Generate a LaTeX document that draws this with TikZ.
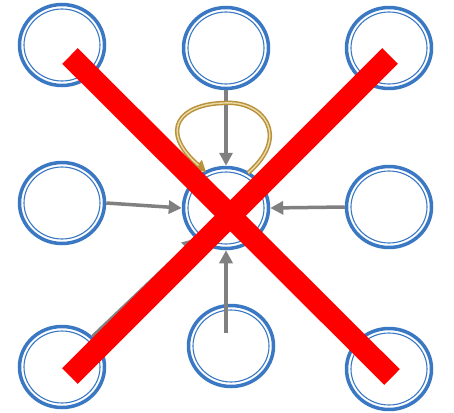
\documentclass[tikz,border=0pt]{standalone}
\usetikzlibrary{shapes.geometric,arrows.meta}
\definecolor{ringblue}{HTML}{3A78C3}
\definecolor{arrgray}{HTML}{808080}
\definecolor{loopgold}{HTML}{B8913A}
\definecolor{loopin}{HTML}{EADAA8}
\definecolor{xred}{HTML}{FF0000}
\tikzset{
  ring/.style={ellipse, draw=ringblue, line width=3.5pt, minimum width=85pt, minimum height=81pt, inner sep=0pt},
  innerring/.style={draw=ringblue, line width=1.1pt},
  garrow/.style={draw=arrgray, line width=3.5pt, -{Triangle[length=13pt,width=13pt]}},
  xbar/.style={draw=xred, line width=22pt, line cap=butt}
}
\begin{document}
\begin{tikzpicture}[x=1pt,y=-1pt]
\useasboundingbox (0,0) rectangle (454,412);
\node[ring] (n11) at (62,45) {};
\node[ring] (n12) at (226,48) {};
\node[ring] (n13) at (389,48) {};
\node[ring] (n21) at (62,203) {};
\node[ring] (n22) at (226,208) {};
\node[ring] (n23) at (389,207) {};
\node[ring] (n31) at (62,367) {};
\node[ring] (n32) at (231,346) {};
\node[ring] (n33) at (389,369) {};
\foreach \c in {(62,45),(226,48),(389,48),(62,203),(226,208),(389,207),(62,367),(231,346),(389,369)}
  \draw[innerring] \c ellipse (38pt and 36pt);
% arrows
\draw[garrow] (n12.south) -- (n22.north);
\draw[garrow] (n21.east) -- (n22.west);
\draw[garrow] (n23.west) -- (n22.east);
\coordinate (b0) at (226,333);
\draw[garrow] (b0) -- (n22.south);
\draw[garrow] (n31.45) -- (n22.-135);
% self loop
\coordinate (la) at (248,173);
\coordinate (lb) at (206,172);
\draw[draw=loopgold, line width=4.4pt, -{Triangle[length=11pt,width=12pt]}]
  (la) .. controls (292,135) and (262,100) .. (224,103) .. controls (180,104) and (158,130) .. (lb);
\draw[draw=loopin, line width=1.4pt, shorten >=10pt]
  (la) .. controls (292,135) and (262,100) .. (224,103) .. controls (180,104) and (158,130) .. (lb);
% red X
\coordinate (x1) at (70,56);
\coordinate (x2) at (392,377);
\coordinate (x3) at (390,56);
\coordinate (x4) at (70,376);
\draw[xbar] (x1) -- (x2);
\draw[xbar] (x3) -- (x4);
\end{tikzpicture}
\end{document}
